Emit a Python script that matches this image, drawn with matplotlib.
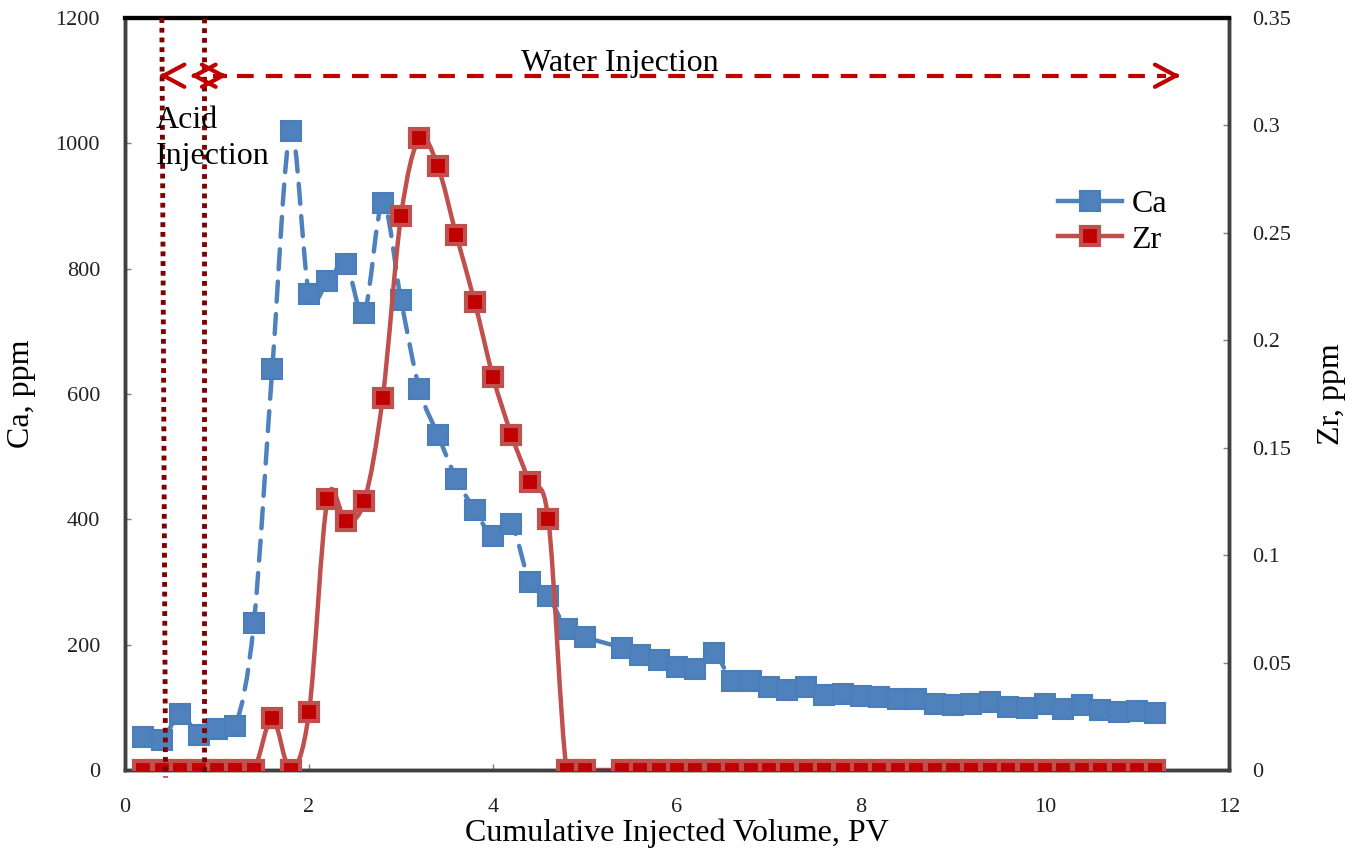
"""
Ca and Zr effluent concentrations vs cumulative injected volume
"""

import numpy as np
import matplotlib
matplotlib.use('Agg')
import matplotlib.pyplot as plt
from matplotlib.path import Path
from matplotlib.patches import PathPatch
from matplotlib.lines import Line2D

plt.rcParams['font.family'] = ['Liberation Serif', 'DejaVu Serif']

# ---- data ----
pv = [0.2, 0.4, 0.6, 0.8, 1.0, 1.2, 1.4, 1.6, 1.8, 2.0,
      2.2, 2.4, 2.6, 2.8, 3.0, 3.2, 3.4, 3.6, 3.8, 4.0,
      4.2, 4.4, 4.6, 4.8, 5.0, 5.4, 5.6, 5.8, 6.0, 6.2,
      6.4, 6.6, 6.8, 7.0, 7.2, 7.4, 7.6, 7.8, 8.0, 8.2,
      8.4, 8.6, 8.8, 9.0, 9.2, 9.4, 9.6, 9.8, 10.0, 10.2,
      10.4, 10.6, 10.8, 11.0, 11.2]

ca_ppm = [52, 48, 89, 56, 66, 70, 234, 640, 1020, 760,
          780, 807, 730, 905, 750, 608, 535, 465, 415, 373,
          392, 300, 277, 225, 212, 195, 183, 176, 164, 161,
          187, 142, 142, 133, 127, 132, 120, 122, 118, 116,
          114, 113, 106, 104, 106, 109, 101, 99, 105, 97,
          104, 95, 92, 94, 91]

zr_ppm = [0, 0, 0, 0, 0, 0, 0, 0.024, 0, 0.027,
          0.126, 0.116, 0.125, 0.173, 0.258, 0.294, 0.281, 0.249, 0.218, 0.183,
          0.156, 0.134, 0.117, 0, 0, 0, 0, 0, 0, 0,
          0, 0, 0, 0, 0, 0, 0, 0, 0, 0,
          0, 0, 0, 0, 0, 0, 0, 0, 0, 0,
          0, 0, 0, 0, 0]

acid_start = (0.40, 0.44)   # dotted marker (top x, bottom x)
acid_end = 0.86
arrow_y = 1108
acid_arrow = (0.37, 1.11)
water_arrow = (0.71, 11.47)

BLUE = '#4F81BD'
RED_LINE = '#C0504D'
RED_FILL = '#C00000'
DARK_RED = '#7F0000'


def smooth_path(x, y):
    """Excel-like smoothed line: Catmull-Rom segments as cubic Beziers."""
    pts = np.column_stack([x, y]).astype(float)
    n = len(pts)
    verts = [pts[0]]
    codes = [Path.MOVETO]
    for i in range(n - 1):
        p0 = pts[max(i - 1, 0)]
        p1 = pts[i]
        p2 = pts[i + 1]
        p3 = pts[min(i + 2, n - 1)]
        c1 = p1 + (p2 - p0) / 6.0
        c2 = p2 - (p3 - p1) / 6.0
        verts += [c1, c2, p2]
        codes += [Path.CURVE4] * 3
    return Path(verts, codes)


def injection_arrow(axis, x0, x1, y, dash_start=None):
    """Dashed shaft with solid open heads at both ends."""
    xs = x0 if dash_start is None else dash_start
    axis.plot([xs, x1 - 0.15], [y, y], transform=ax.transData, color=RED_FILL,
              lw=3, linestyle=(0, (4, 2.9)), solid_capstyle='butt', zorder=6)
    for tip, back in [(x0, x0 + 0.05), (x1, x1 - 0.05)]:
        axis.annotate('', xy=(tip, y), xytext=(back, y),
                      xycoords=ax.transData, textcoords=ax.transData,
                      arrowprops=dict(arrowstyle='->,head_length=0.75,head_width=0.4',
                                      color=RED_FILL, lw=3, shrinkA=0, shrinkB=0,
                                      mutation_scale=20), zorder=6)


fig = plt.figure(figsize=(13.52, 8.61), dpi=100)
ax = fig.add_axes([0.0925, 0.1057, 0.8165, 0.8733])
ax2 = ax.twinx()

# Ca: dashed smoothed line + square markers
ax.add_patch(PathPatch(smooth_path(pv, ca_ppm), facecolor='none', edgecolor=BLUE,
                       lw=3.2, linestyle=(0, (4.5, 2.8)), capstyle='round', zorder=2))
ax.plot(pv, ca_ppm, linestyle='none', marker='s', markersize=15,
        markerfacecolor=BLUE, markeredgecolor='#4A7EBB', markeredgewidth=1.5, zorder=3)

# Zr: solid smoothed line + square markers
ax2.add_patch(PathPatch(smooth_path(pv, zr_ppm), facecolor='none', edgecolor=RED_LINE,
                        lw=3.2, zorder=2))
ax2.plot(pv, zr_ppm, linestyle='none', marker='s', markersize=13,
         markerfacecolor=RED_FILL, markeredgecolor=RED_LINE, markeredgewidth=3, zorder=3)

ax.set_xlim(0, 12)
ax.set_ylim(0, 1200)
ax2.set_ylim(0, 0.35)
ax.set_xticks(np.arange(0, 13, 2))
ax.set_yticks(np.arange(0, 1201, 200))
ax2.set_yticks(np.arange(0, 0.351, 0.05))
ax2.set_yticklabels(['0', '0.05', '0.1', '0.15', '0.2', '0.25', '0.3', '0.35'])

for a in (ax, ax2):
    for side in ['left', 'right', 'bottom']:
        a.spines[side].set_color('#404040')
        a.spines[side].set_linewidth(2.5)
    a.spines['top'].set_color('black')
    a.spines['top'].set_linewidth(3)

ax.tick_params(axis='both', direction='in', length=4, width=1, color='#808080',
               labelsize=16, labelcolor='#222222')
ax.tick_params(axis='y', pad=18)
ax.tick_params(axis='x', pad=20)
ax2.tick_params(axis='y', direction='in', length=4, width=1, color='#808080',
                labelsize=16, labelcolor='#222222', pad=17)

ax.set_xlabel('Cumulative Injected Volume, PV', fontsize=23, labelpad=1)
ax.set_ylabel('Ca, ppm', fontsize=23, labelpad=14)
ax2.set_ylabel('Zr, ppm', fontsize=23, labelpad=18)

# acid injection window (dotted) and injection arrows
ax2.plot([acid_start[0], acid_start[1]], [1200, -12], transform=ax.transData,
         color=DARK_RED, lw=3.5, linestyle=(0, (1, 1)), clip_on=False, zorder=5)
ax2.plot([acid_end, acid_end], [1200, -5], transform=ax.transData,
         color=DARK_RED, lw=3.5, linestyle=(0, (1, 1)), clip_on=False, zorder=5)

injection_arrow(ax2, acid_arrow[0], acid_arrow[1], arrow_y, dash_start=acid_arrow[1])
injection_arrow(ax2, water_arrow[0], water_arrow[1], arrow_y, dash_start=1.22)

ax2.text(5.38, 1127, 'Water Injection', transform=ax.transData, fontsize=23,
         ha='center', va='center', zorder=7)
ax2.text(0.33, 1008, 'Acid\nInjection', transform=ax.transData, fontsize=23,
         ha='left', va='center', linespacing=1.35, zorder=7)

# legend
handles = [
    Line2D([], [], color=BLUE, lw=3.2, marker='s', markersize=15,
           markerfacecolor=BLUE, markeredgecolor='#4A7EBB', markeredgewidth=1.5),
    Line2D([], [], color=RED_LINE, lw=3.2, marker='s', markersize=13,
           markerfacecolor=RED_FILL, markeredgecolor=RED_LINE, markeredgewidth=3),
]
ax2.legend(handles, ['Ca', 'Zr'], loc='center left',
           bbox_to_anchor=(1058 / 1352, 1 - 222 / 861), bbox_transform=fig.transFigure,
           frameon=False, fontsize=23, handlelength=2.0, handletextpad=0.3,
           labelspacing=0.2, borderaxespad=0, borderpad=0)

fig.savefig('out.png', dpi=100)
